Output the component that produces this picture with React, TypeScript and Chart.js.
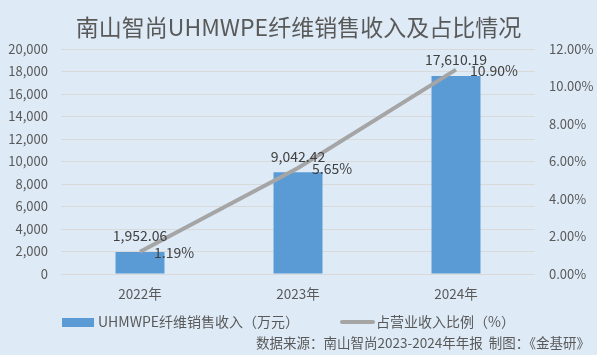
import React, { useEffect, useRef } from "react";
import { Chart, registerables } from "chart.js";

Chart.register(...registerables);

const categories = ["2022年", "2023年", "2024年"];
const revenue = [1952.06, 9042.42, 17610.19];
const share = [1.19, 5.65, 10.9];
const revenueLabel = "UHMWPE纤维销售收入（万元）";
const shareLabel = "占营业收入比例（%）";
const titleText = "南山智尚UHMWPE纤维销售收入及占比情况";
const sourceText = "数据来源：南山智尚2023-2024年年报  制图：《金基研》";

const FONT = "'Noto Sans CJK SC', 'Noto Sans', sans-serif";
const BG = "#deebf7";
const BAR = "#5b9bd5";
const LINE = "#a5a5a5";
const TEXT = "#595959";
const LABEL = "#404040";

const overlayPlugin = {
  id: "overlay",
  beforeDraw(chart: any) {
    const ctx = chart.ctx;
    ctx.save();
    ctx.fillStyle = BG;
    ctx.fillRect(0, 0, chart.width, chart.height);
    ctx.restore();
  },
  afterDraw(chart: any) {
    const ctx = chart.ctx;
    ctx.save();
    // data labels for bars
    const barMeta = chart.getDatasetMeta(0);
    ctx.font = `14px ${FONT}`;
    ctx.fillStyle = LABEL;
    ctx.textAlign = "center";
    ctx.textBaseline = "middle";
    barMeta.data.forEach((el: any, i: number) => {
      const txt = revenue[i].toLocaleString("en-US", {
        minimumFractionDigits: 2,
        maximumFractionDigits: 2,
      });
      ctx.fillText(txt, el.x, el.y - 16);
    });
    // data labels for line
    const lineMeta = chart.getDatasetMeta(1);
    ctx.textAlign = "left";
    lineMeta.data.forEach((el: any, i: number) => {
      ctx.fillText(share[i].toFixed(2) + "%", el.x + 14, el.y + 1);
    });
    // legend
    ctx.fillStyle = BAR;
    ctx.fillRect(62, 318, 32, 9);
    ctx.fillStyle = TEXT;
    ctx.font = `14px ${FONT}`;
    ctx.textAlign = "left";
    ctx.textBaseline = "middle";
    ctx.fillText(revenueLabel, 98, 322);
    ctx.strokeStyle = LINE;
    ctx.lineWidth = 4;
    ctx.lineCap = "round";
    ctx.beginPath();
    ctx.moveTo(342, 322);
    ctx.lineTo(373, 322);
    ctx.stroke();
    ctx.fillText(shareLabel, 376, 322);
    // source
    ctx.font = `13.5px ${FONT}`;
    ctx.textAlign = "right";
    ctx.fillText(sourceText, 590, 343);
    ctx.restore();
  },
};

export default function App() {
  const ref = useRef<HTMLCanvasElement | null>(null);
  useEffect(() => {
    if (!ref.current) return;
    const chart = new Chart(ref.current, {
      type: "bar",
      data: {
        labels: categories,
        datasets: [
          {
            type: "bar",
            label: revenueLabel,
            data: revenue,
            backgroundColor: BAR,
            yAxisID: "y",
            categoryPercentage: 1,
            barPercentage: 0.31,
            order: 1,
          } as any,
          {
            type: "line",
            label: shareLabel,
            data: share,
            borderColor: LINE,
            backgroundColor: LINE,
            borderWidth: 4,
            pointRadius: 0,
            yAxisID: "y1",
            order: 0,
            tension: 0,
          } as any,
        ],
      },
      options: {
        responsive: false,
        animation: false,
        devicePixelRatio: 1,
        layout: { padding: { left: 0, right: 0, top: 0, bottom: 51 } },
        plugins: {
          legend: { display: false },
          tooltip: { enabled: false },
          title: {
            display: true,
            text: titleText,
            color: TEXT,
            font: { family: FONT, size: 23, weight: "normal" },
            padding: { top: 13, bottom: 8.4 },
          },
        },
        scales: {
          x: {
            grid: { display: false, drawTicks: false },
            border: { display: false },
            ticks: {
              color: TEXT,
              font: { family: FONT, size: 13.5 },
              padding: 12,
            },
            afterFit: (s: any) => {
              s.height = 30;
            },
          },
          y: {
            position: "left",
            min: 0,
            max: 20000,
            ticks: {
              stepSize: 2000,
              color: TEXT,
              font: { family: FONT, size: 13 },
              padding: 13,
              callback: (v: any) => Number(v).toLocaleString("en-US"),
            },
            grid: { color: "#d9d9d9", drawTicks: false, lineWidth: 1 },
            border: { display: false },
            afterFit: (s: any) => {
              s.width = 61;
            },
          },
          y1: {
            position: "right",
            min: 0,
            max: 12,
            ticks: {
              stepSize: 2,
              color: TEXT,
              font: { family: FONT, size: 13 },
              padding: 14,
              callback: (v: any) => Number(v).toFixed(2) + "%",
            },
            grid: { display: false, drawTicks: false },
            border: { display: false },
            afterFit: (s: any) => {
              s.width = 62;
            },
          },
        },
      } as any,
      plugins: [overlayPlugin],
    });
    return () => chart.destroy();
  }, []);
  return (
    <div
      style={{
        position: "absolute",
        left: 0,
        top: 0,
        width: 597,
        height: 355,
        background: BG,
      }}
    >
      <canvas ref={ref} width={597} height={355} />
    </div>
  );
}
